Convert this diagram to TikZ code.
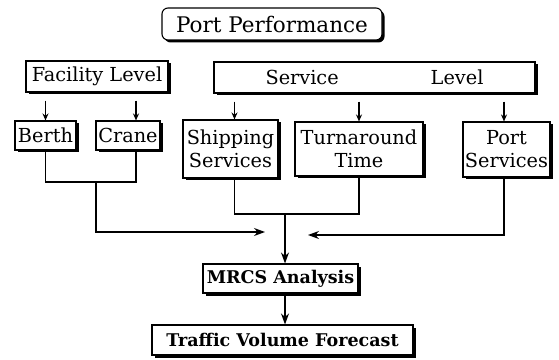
\documentclass[tikz,border=0pt]{standalone}
\usepackage{fontspec}
\setmainfont{DejaVu Serif}
\usetikzlibrary{shadows,arrows.meta}
\tikzset{
  box/.style={draw, line width=1.1pt, fill=white, align=center, inner sep=0pt,
    font=\fontsize{19.3}{23}\selectfont,
    drop shadow={shadow xshift=2.5pt, shadow yshift=-2.5pt, fill=black, opacity=1}},
  boldbox/.style={box, font=\fontsize{17.5}{21}\selectfont\bfseries},
  down/.style={line width=1.1pt, -{Stealth[length=7pt,width=6pt]}},
  flow/.style={line width=1.1pt, -{Stealth[length=11pt,width=8pt]}},
  link/.style={line width=1.1pt},
}
\begin{document}
\begin{tikzpicture}[x=1pt,y=1pt]
\useasboundingbox (0,0) rectangle (559,359);

\node[box, rounded corners=6pt, minimum width=220pt, minimum height=32pt, font=\fontsize{21.5}{25}\selectfont] (port) at (272,335) {Port Performance};
\node[box, minimum width=142pt, minimum height=31pt] (facility) at (97,282.5) {Facility Level};
\node[box, minimum width=321pt, minimum height=31pt] (service) at (374.5,281.5) {Service\hspace{92pt}Level};

\node[box, minimum width=61pt, minimum height=29pt] (berth) at (45.5,223.5) {Berth};
\node[box, minimum width=64pt, minimum height=29pt] (crane) at (128,223.5) {Crane};
\node[box, minimum width=95pt, minimum height=58pt] (shipping) at (230.5,210) {Shipping\\Services};
\node[box, minimum width=128pt, minimum height=54pt] (turn) at (359,210) {Turnaround\\Time};
\node[box, minimum width=87pt, minimum height=55pt] (portsrv) at (506.5,209.5) {Port\\Services};

\node[boldbox, minimum width=155pt, minimum height=29pt] (mrcs) at (280.5,80.5) {MRCS Analysis};
\node[boldbox, minimum width=261pt, minimum height=30pt] (traffic) at (282.5,19) {Traffic Volume Forecast};

% attach points
\coordinate (cranetop) at ([xshift=8pt]crane.north);
\coordinate (cranebot) at ([xshift=8pt]crane.south);
\coordinate (shiptop) at ([xshift=4pt]shipping.north);
\coordinate (shipbot) at ([xshift=4pt]shipping.south);
\coordinate (pstop) at ([xshift=-2.5pt]portsrv.north);
\coordinate (psbot) at ([xshift=-2.5pt]portsrv.south);
\coordinate (facbase) at ([yshift=-8pt]facility.south);
\coordinate (srvbase) at ([yshift=-8pt]service.south);
\coordinate (fc) at (96,177);
\coordinate (fctip) at (265,127);
\coordinate (st) at (285,145);
\coordinate (pstip) at (308,124);

% levels to items
\path[draw,down] (facbase -| berth.north) -- (berth.north);
\path[draw,down] (facbase -| cranetop) -- (cranetop);
\path[draw,down] (srvbase -| shiptop) -- (shiptop);
\path[draw,down] (srvbase -| turn.north) -- (turn.north);
\path[draw,down] (srvbase -| pstop) -- (pstop);

% items to analysis
\path[draw,link] (berth.south) |- (fc) -| (cranebot);
\path[draw,flow] (fc) |- (fctip);
\path[draw,link] (shipbot) |- (st) -| (turn.south);
\path[draw,flow] (st) -- (st |- mrcs.north);
\path[draw,flow] (psbot) |- (pstip);
\path[draw,flow] (mrcs.south -| st) -- (traffic.north -| st);

\end{tikzpicture}
\end{document}
